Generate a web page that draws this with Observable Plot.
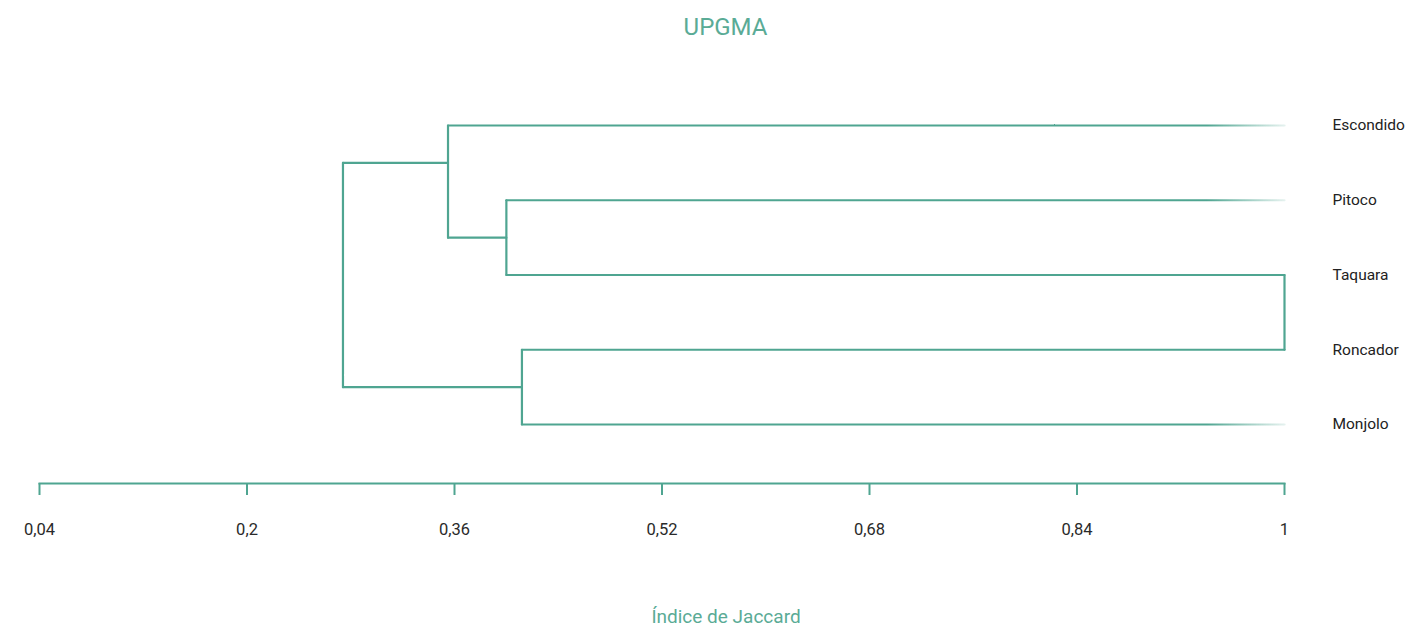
<!DOCTYPE html>
<html>
<head>
<meta charset="utf-8">
<script src="https://cdn.jsdelivr.net/npm/d3@7"></script>
<script src="https://cdn.jsdelivr.net/npm/@observablehq/plot@0.6"></script>
<style>
  html, body { margin: 0; padding: 0; background: #ffffff; }
  #chart svg { display: block; }
</style>
</head>
<body>
<div id="chart"></div>
<script>
// Áreas amostradas (folhas do dendrograma), de cima para baixo
const leaves = ["Escondido", "Pitoco", "Taquara", "Roncador", "Monjolo"];

// Agrupamentos UPGMA: nome, similaridade (Jaccard), filhos e linha de desenho
const clusterNames = ["Pitoco+Taquara", "Escondido+(Pitoco+Taquara)", "Roncador+Monjolo", "raiz"];
const clusterSimilarity = [0.400, 0.355, 0.412, 0.274];
const clusterChildren = [
  ["Pitoco", "Taquara"],
  ["Escondido", "Pitoco+Taquara"],
  ["Roncador", "Monjolo"],
  ["Escondido+(Pitoco+Taquara)", "Roncador+Monjolo"]
];
const clusterRow = [1.5, 0.5, 3.5, 2];

// Pares de áreas idênticas (Jaccard = 1), unidos no extremo direito
const identicalPairs = [["Taquara", "Roncador"]];
const identicalSimilarity = 1;

// Eixo do índice de Jaccard
const tickValues = [0.04, 0.2, 0.36, 0.52, 0.68, 0.84, 1];
const leafSimilarity = 1;

const teal = "#4fa591";
const titleColor = "#5aab96";

// Posição (similaridade, linha) de cada nó
const node = new Map();
leaves.forEach((name, i) => node.set(name, {x: leafSimilarity, y: i}));
clusterNames.forEach((name, i) => node.set(name, {x: clusterSimilarity[i], y: clusterRow[i]}));

// Segmentos horizontais (do agrupamento até cada filho) e verticais (entre os filhos)
const horizontal = [];
const vertical = [];
clusterNames.forEach((name, i) => {
  const [a, b] = clusterChildren[i].map(c => node.get(c));
  const x = clusterSimilarity[i];
  vertical.push({x, y1: a.y, y2: b.y});
  clusterChildren[i].forEach(c => {
    const child = node.get(c);
    horizontal.push({x1: x, x2: child.x, y: child.y, leaf: leaves.includes(c), name: c});
  });
});
identicalPairs.forEach(([p, q]) => {
  vertical.push({x: identicalSimilarity, y1: node.get(p).y, y2: node.get(q).y});
});
const joined = new Set(identicalPairs.flat());

const fmt = d => String(d).replace(".", ",");

const chart = Plot.plot({
  width: 1407,
  height: 628,
  marginLeft: 39,
  marginRight: 123,
  marginTop: 125,
  marginBottom: 145,
  x: {domain: [0.04, 1]},
  y: {domain: [0, 4], range: [125, 424], axis: null},
  style: {fontFamily: "Roboto, 'Noto Sans', sans-serif", background: "#ffffff", color: "#222"},
  marks: [
    // linha de base do eixo
    Plot.frame({anchor: "bottom", stroke: teal, strokeWidth: 2}),
    Plot.axisX(tickValues, {
      anchor: "bottom",
      tickSize: 12,
      tickPadding: 28,
      stroke: teal,
      strokeWidth: 2,
      fill: "#2a2a2a",
      fontSize: 16.5,
      tickFormat: fmt,
      label: null
    }),
    // ramos do dendrograma
    Plot.link(horizontal, {
      x1: "x1", x2: "x2", y1: "y", y2: "y",
      stroke: d => (d.leaf && !joined.has(d.name)) ? "url(#fade)" : teal,
      strokeWidth: 2.2,
      strokeLinecap: "round"
    }),
    Plot.link(vertical, {
      x1: "x", x2: "x", y1: "y1", y2: "y2",
      stroke: teal,
      strokeWidth: 2.2,
      strokeLinecap: "round"
    }),
    // nomes das áreas
    Plot.text(leaves, {
      x: leafSimilarity,
      y: (d, i) => i,
      text: d => d,
      dx: 48,
      textAnchor: "start",
      fontSize: 15.5,
      fill: "#222"
    }),
    // título
    Plot.text(["UPGMA"], {
      frameAnchor: "top",
      text: d => d,
      dx: 63.5,
      dy: -91,
      lineAnchor: "bottom",
      fontSize: 24,
      fill: titleColor
    }),
    // rótulo do eixo
    Plot.text(["Índice de Jaccard"], {
      frameAnchor: "bottom",
      text: d => d,
      dx: 64,
      dy: 139.5,
      lineAnchor: "bottom",
      fontSize: 19,
      fill: titleColor
    })
  ]
});

// gradiente que esmaece a ponta dos ramos terminais, e leve textura de traço à mão
const sx = chart.scale("x");
const svg = d3.select(chart);
const defs = svg.insert("defs", ":first-child");
const grad = defs.append("linearGradient")
  .attr("id", "fade")
  .attr("gradientUnits", "userSpaceOnUse")
  .attr("x1", sx.apply(0.94)).attr("x2", sx.apply(1))
  .attr("y1", 0).attr("y2", 0);
grad.append("stop").attr("offset", 0).attr("stop-color", teal).attr("stop-opacity", 1);
grad.append("stop").attr("offset", 1).attr("stop-color", teal).attr("stop-opacity", 0.15);

const rough = defs.append("filter").attr("id", "rough")
  .attr("x", "-5%").attr("y", "-5%").attr("width", "110%").attr("height", "110%");
rough.append("feTurbulence").attr("type", "fractalNoise").attr("baseFrequency", 0.06)
  .attr("numOctaves", 2).attr("seed", 3).attr("result", "noise");
rough.append("feDisplacementMap").attr("in", "SourceGraphic").attr("in2", "noise")
  .attr("scale", 1.4).attr("xChannelSelector", "R").attr("yChannelSelector", "G");
svg.selectAll("g[aria-label='link'], g[aria-label='frame'], g[aria-label='x-axis tick']")
  .attr("filter", "url(#rough)");

document.getElementById("chart").appendChild(chart);
</script>
</body>
</html>
